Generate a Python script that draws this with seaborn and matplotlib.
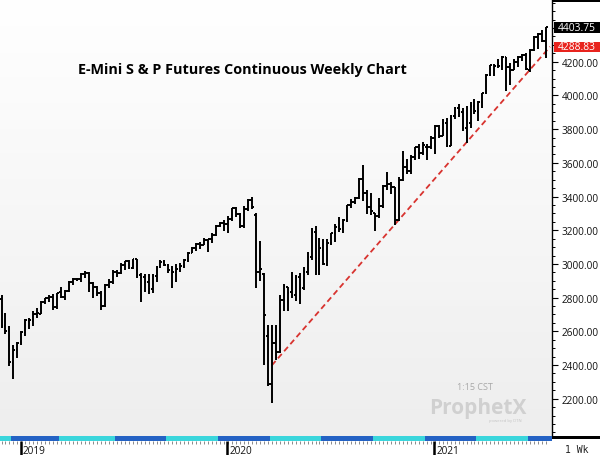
import numpy as np
import pandas as pd
import matplotlib
matplotlib.use("Agg")
import matplotlib.pyplot as plt
import seaborn as sns
from matplotlib.patches import Rectangle
from matplotlib.colors import LinearSegmentedColormap

sns.set_style("white")
plt.rcParams['font.family'] = ['Open Sans', 'DejaVu Sans']

# ---------------- data (weekly ES continuous) ----------------
first_week = "2018-12-03"
opens = [2790, 2630, 2600, 2410, 2490, 2535, 2590, 2660, 2660, 2705,
         2705, 2777, 2795, 2806, 2745, 2835, 2803, 2840, 2895, 2910,
         2908, 2941, 2948, 2885, 2862, 2830, 2752, 2875, 2891, 2950,
         2944, 2992, 3015, 2977, 3027, 2935, 2920, 2890, 2849, 2926,
         2981, 3010, 2995, 2962, 2953, 2970, 2988, 3023, 3067, 3094,
         3120, 3112, 3142, 3148, 3172, 3225, 3243, 3235, 3266, 3330,
         3294, 3223, 3328, 3380, 3290, 2951, 2940, 2575, 2290, 2530,
         2480, 2786, 2862, 2835, 2815, 2925, 2857, 2950, 3040, 3190,
         3030, 3080, 3000, 3124, 3181, 3217, 3208, 3262, 3348, 3369,
         3393, 3505, 3420, 3338, 3300, 3285, 3342, 3463, 3474, 3455,
         3263, 3500, 3574, 3552, 3633, 3691, 3660, 3695, 3693, 3748,
         3817, 3762, 3836, 3701, 3880, 3928, 3901, 3807, 3836, 3936,
         3900, 3962, 4014, 4124, 4180, 4176, 4174, 4227, 4168, 4153,
         4199, 4226, 4241, 4150, 4272, 4345, 4364, 4322]
highs = [2815, 2708, 2630, 2520, 2539, 2600, 2675, 2680, 2718, 2740,
         2780, 2800, 2817, 2820, 2830, 2862, 2845, 2898, 2915, 2918,
         2945, 2960, 2950, 2895, 2868, 2840, 2880, 2910, 2964, 2966,
         3003, 3016, 3021, 3029, 3030, 2947, 2942, 2941, 2940, 2985,
         3022, 3022, 3000, 2990, 2997, 3008, 3028, 3068, 3100, 3122,
         3128, 3156, 3150, 3185, 3230, 3248, 3260, 3283, 3333, 3340,
         3300, 3341, 3385, 3397, 3300, 3137, 2945, 2640, 2637, 2640,
         2818, 2880, 2866, 2952, 2932, 2945, 2980, 3068, 3211, 3227,
         3152, 3145, 3150, 3185, 3234, 3276, 3269, 3352, 3385, 3398,
         3509, 3588, 3441, 3422, 3305, 3392, 3468, 3544, 3488, 3455,
         3518, 3668, 3620, 3644, 3694, 3712, 3726, 3713, 3760, 3826,
         3823, 3859, 3863, 3885, 3932, 3950, 3928, 3935, 3958, 3981,
         3966, 4015, 4128, 4183, 4187, 4218, 4236, 4230, 4191, 4218,
         4235, 4248, 4254, 4273, 4350, 4371, 4390, 4404]
lows = [2621, 2583, 2397, 2317, 2443, 2520, 2570, 2613, 2633, 2680,
        2700, 2760, 2775, 2728, 2735, 2795, 2785, 2835, 2873, 2896,
        2895, 2918, 2835, 2800, 2810, 2729, 2747, 2860, 2883, 2925,
        2940, 2966, 2972, 2970, 2914, 2776, 2834, 2824, 2825, 2890,
        2978, 2990, 2946, 2856, 2894, 2952, 2978, 3011, 3065, 3076,
        3089, 3110, 3068, 3127, 3168, 3220, 3198, 3181, 3257, 3281,
        3212, 3214, 3316, 3328, 2855, 2901, 2400, 2274, 2174, 2430,
        2472, 2722, 2718, 2798, 2783, 2765, 2848, 2935, 3021, 2935,
        2933, 2993, 2985, 3115, 3128, 3191, 3183, 3246, 3330, 3355,
        3384, 3376, 3296, 3291, 3198, 3270, 3330, 3439, 3413, 3233,
        3256, 3495, 3533, 3536, 3618, 3625, 3646, 3616, 3680, 3652,
        3749, 3759, 3694, 3700, 3860, 3870, 3788, 3720, 3805, 3890,
        3849, 3925, 4010, 4113, 4115, 4160, 4150, 4029, 4059, 4150,
        4170, 4202, 4151, 4140, 4266, 4277, 4315, 4222]
closes = [2633, 2600, 2417, 2488, 2531, 2595, 2666, 2665, 2705, 2708,
          2777, 2795, 2806, 2745, 2825, 2803, 2840, 2895, 2910, 2908,
          2941, 2948, 2885, 2862, 2830, 2752, 2875, 2891, 2950, 2944,
          2992, 3015, 2977, 3027, 2935, 2920, 2890, 2849, 2926, 2981,
          3010, 2995, 2962, 2953, 2970, 2988, 3023, 3067, 3094, 3120,
          3112, 3142, 3148, 3172, 3225, 3243, 3235, 3266, 3330, 3294,
          3223, 3328, 3380, 3338, 2951, 2969, 2697, 2290, 2530, 2477,
          2786, 2871, 2828, 2818, 2925, 2857, 2950, 3040, 3190, 3036,
          3095, 2998, 3124, 3181, 3217, 3208, 3262, 3348, 3369, 3393,
          3505, 3420, 3338, 3312, 3285, 3342, 3463, 3474, 3455, 3263,
          3500, 3574, 3552, 3633, 3691, 3660, 3703, 3693, 3748, 3817,
          3762, 3836, 3701, 3880, 3928, 3901, 3807, 3836, 3936, 3905,
          3962, 4014, 4124, 4180, 4176, 4174, 4227, 4168, 4153, 4199,
          4226, 4241, 4155, 4272, 4345, 4364, 4322, 4403.75]

trend_dates = ["2020-03-23", "2021-07-26"]
trend_values = [2398, 4288.83]
last_price = 4403.75
trend_price = 4288.83
contract_starts = ["2018-12-24", "2019-03-18", "2019-06-24", "2019-09-23",
                   "2019-12-23", "2020-03-23", "2020-06-22", "2020-09-21",
                   "2020-12-21", "2021-03-22", "2021-06-21"]
year_labels = ["2019", "2020", "2021"]
title = "E-Mini S & P Futures Continuous Weekly Chart"

# ---------------- derived ----------------
t0 = pd.Timestamp(first_week)
weeks = pd.date_range(first_week, periods=len(opens), freq="7D")
xi = np.arange(len(weeks))
df = pd.DataFrame({"x": xi, "open": opens, "high": highs, "low": lows, "close": closes})
def widx(d):
    return (pd.Timestamp(d) - t0).days / 7.0

W, H = 600, 456
fig = plt.figure(figsize=(W / 100, H / 100), dpi=100)
fig.patch.set_facecolor("white")
def rect(x0, y0, x1, y1):
    return [x0 / W, 1 - y1 / H, (x1 - x0) / W, (y1 - y0) / H]

XL = (-0.38, 138.5)
YL = (1979, 4572)

ax = fig.add_axes(rect(0, 0, 552, 437))
ax.set_xlim(*XL)
ax.set_ylim(*YL)
cmap = LinearSegmentedColormap.from_list("bg", ["#ffffff", "#eeeeee"])
ax.imshow(np.linspace(0, 1, 200).reshape(-1, 1), extent=[XL[0], XL[1], YL[0], YL[1]],
          aspect="auto", cmap=cmap, origin="upper", zorder=0)

lw = 1.4
ax.vlines(df["x"], df["low"], df["high"], color="black", lw=lw, zorder=3)
ax.hlines(df["open"], df["x"] - 0.45, df["x"], color="black", lw=lw, zorder=3)
ax.hlines(df["close"], df["x"], df["x"] + 0.45, color="black", lw=lw, zorder=3)

tdf = pd.DataFrame({"x": [widx(d) for d in trend_dates], "y": trend_values})
sns.lineplot(data=tdf, x="x", y="y", ax=ax, color="#d8332f", lw=1.3,
             linestyle=(0, (3.2, 2.0)), zorder=2)
ax.set_xlim(*XL)
ax.set_ylim(*YL)
ax.set_xlabel("")
ax.set_ylabel("")
ax.set_xticks([])

ax.yaxis.tick_right()
major = np.arange(2200, 4401, 200)
ax.set_yticks(major)
ax.set_yticks(np.arange(2000, 4551, 50), minor=True)
ax.set_yticklabels([f"{v:.2f}" if v < last_price - 100 else "" for v in major])
ax.tick_params(axis="y", which="major", direction="out", length=4, width=0.8,
               color="black", labelsize=7.2, pad=3, labelcolor="#111111")
ax.tick_params(axis="y", which="minor", direction="out", length=2.2, width=0.7, color="black")
for s in ["left", "top", "bottom"]:
    ax.spines[s].set_visible(False)
ax.spines["right"].set_visible(True)
ax.spines["right"].set_color("black")
ax.spines["right"].set_linewidth(1.0)

ax.text(242 / 552, 1 - 70 / 437, title, transform=ax.transAxes, ha="center", va="center",
        fontsize=10.4, fontweight="bold", color="black", zorder=5)

# contract band
bax = fig.add_axes(rect(0, 437, 552, 442))
bax.set_xlim(*XL)
bax.set_ylim(0, 1)
bounds = [XL[0]] + [widx(d) - 0.5 for d in contract_starts] + [XL[1]]
band_cols = ["#3ad6dc", "#2462c4"]
for i in range(len(bounds) - 1):
    bax.axvspan(bounds[i], bounds[i + 1], color=band_cols[i % 2], lw=0)
bax.set_axis_off()

# time axis
tax = fig.add_axes(rect(0, 442, 552, 456))
tax.set_xlim(*XL)
tax.set_ylim(0, 1)
tax.set_facecolor("white")
tax.vlines(xi, 0.82, 1.0, color="#777777", lw=0.6)
for lab in year_labels:
    pos = int(np.argmax(weeks.year == int(lab))) - 0.2
    tax.vlines(pos, 0, 1, color="black", lw=1.8)
    tax.text(pos + 0.6, 0.35, lab, ha="left", va="center", fontsize=7.2, color="#111111")
tax.set_xticks([])
tax.set_yticks([])
for s in tax.spines.values():
    s.set_visible(False)

# right panel decorations
fig.add_artist(Rectangle((552 / W, 1 - 3 / H), 48 / W, 3 / H, transform=fig.transFigure,
                         facecolor="black", edgecolor="none"))
fig.add_artist(Rectangle((552 / W, 1 - 440 / H), 48 / W, 3 / H, transform=fig.transFigure,
                         facecolor="black", edgecolor="none"))
fig.text(577 / W, 1 - 450 / H, "1 Wk", ha="center", va="center", fontsize=7,
         family="DejaVu Sans Mono", color="#222222")

def price_box(val, fc):
    yd = ax.transData.transform((0, val))[1]
    yf = fig.transFigure.inverted().transform((0, yd))[1]
    fig.add_artist(Rectangle((554 / W, yf - 5.2 / H), 46 / W, 10.4 / H, transform=fig.transFigure,
                             facecolor=fc, edgecolor="none", zorder=6))
    fig.text(577 / W, yf, f"{val:.2f}", ha="center", va="center", fontsize=7.4,
             color="white", zorder=7)

price_box(last_price, "#000000")
price_box(trend_price, "#e8231d")

# watermark
fig.text(475 / W, 1 - 388 / H, "1:15 CST", ha="center", va="center", fontsize=6.5, color="#a8a8a8")
fig.text(478 / W, 1 - 409 / H, "ProphetX", ha="center", va="center", fontsize=15,
         fontweight="bold", color="#d0d0d0")
fig.text(505 / W, 1 - 421 / H, "powered by DTN", ha="center", va="center", fontsize=3,
         color="#c4c4c4")

fig.savefig("out.png", dpi=100)
